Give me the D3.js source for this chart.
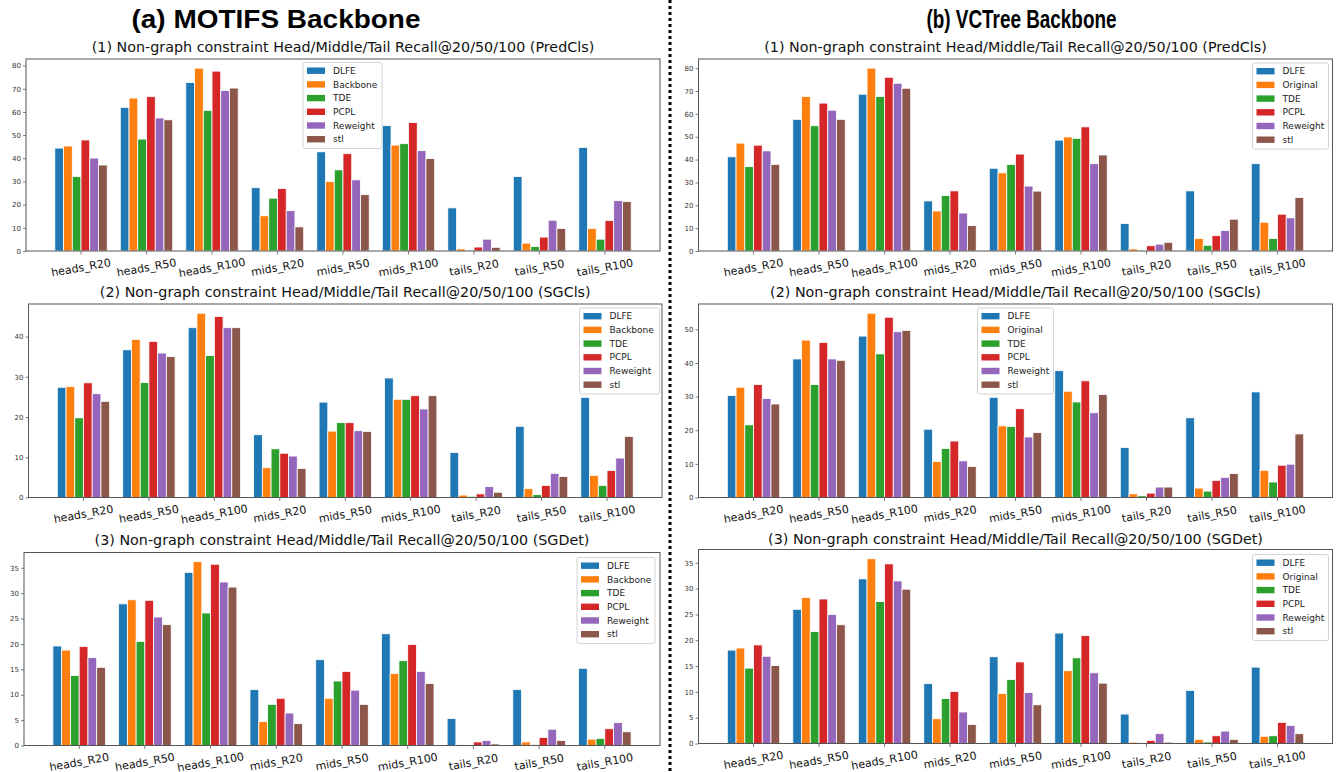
<!DOCTYPE html>
<html>
<head>
<meta charset="utf-8">
<script src="https://cdn.jsdelivr.net/npm/d3@7"></script>
<style>
  body { margin: 0; background: #fff; }
  svg { display: block; }
</style>
</head>
<body>
<svg id="chart" width="1342" height="772"></svg>
<script>
// Recall groups on the x axis
const categories = ['heads_R20', 'heads_R50', 'heads_R100', 'mids_R20', 'mids_R50', 'mids_R100', 'tails_R20', 'tails_R50', 'tails_R100'];

// Methods compared in each backbone column
const motifsMethods = ['DLFE', 'Backbone', 'TDE', 'PCPL', 'Reweight', 'stl'];
const vctreeMethods = ['DLFE', 'Original', 'TDE', 'PCPL', 'Reweight', 'stl'];
const methodColors = ['#1f77b4', '#ff7f0e', '#2ca02c', '#d62728', '#9467bd', '#8c564b'];

// MOTIFS backbone — one row per method, one value per recall group
const motifsPredCls = [
  [44.4, 62.0, 72.7, 27.3, 42.8, 54.1, 18.6, 32.1, 44.7],
  [45.3, 66.0, 78.9, 15.2, 30.0, 45.7, 0.9, 3.4, 9.7],
  [32.1, 48.3, 60.7, 22.8, 35.0, 46.3, 0.4, 1.9, 5.1],
  [47.9, 66.6, 77.6, 27.0, 42.0, 55.4, 1.7, 6.0, 13.1],
  [40.1, 57.4, 69.3, 17.4, 30.7, 43.3, 5.1, 13.3, 21.7],
  [37.1, 56.6, 70.3, 10.4, 24.3, 39.9, 1.6, 9.7, 21.3]
];
const motifsSGCls = [
  [27.4, 36.7, 42.2, 15.6, 23.7, 29.7, 11.2, 17.7, 24.9],
  [27.6, 39.3, 45.8, 7.4, 16.5, 24.4, 0.6, 2.2, 5.5],
  [19.8, 28.6, 35.3, 12.1, 18.6, 24.4, 0.3, 0.7, 3.0],
  [28.5, 38.8, 45.0, 11.0, 18.6, 25.3, 0.9, 3.0, 6.7],
  [25.8, 35.9, 42.2, 10.3, 16.6, 22.0, 2.7, 6.0, 9.8],
  [23.9, 35.0, 42.2, 7.2, 16.4, 25.3, 1.3, 5.2, 15.2]
];
const motifsSGDet = [
  [19.6, 27.9, 34.1, 11.0, 16.9, 22.0, 5.3, 11.0, 15.2],
  [18.8, 28.7, 36.2, 4.7, 9.3, 14.2, 0.2, 0.7, 1.25],
  [13.8, 20.5, 26.1, 8.1, 12.7, 16.7, 0.05, 0.2, 1.4],
  [19.5, 28.6, 35.7, 9.3, 14.6, 19.9, 0.7, 1.6, 3.3],
  [17.3, 25.3, 32.2, 6.4, 10.9, 14.6, 1.0, 3.2, 4.5],
  [15.4, 23.8, 31.2, 4.3, 8.1, 12.2, 0.3, 1.0, 2.7]
];

// VCTree backbone
const vctreePredCls = [
  [41.2, 57.6, 68.6, 21.9, 36.2, 48.5, 12.0, 26.3, 38.2],
  [47.2, 67.6, 80.0, 17.5, 34.2, 49.9, 0.9, 5.5, 12.6],
  [36.9, 54.8, 67.6, 24.3, 37.9, 49.3, 0.4, 2.5, 5.5],
  [46.3, 64.7, 76.0, 26.3, 42.4, 54.3, 2.3, 6.7, 16.1],
  [43.8, 61.6, 73.4, 16.6, 28.4, 38.2, 3.0, 9.0, 14.5],
  [37.9, 57.6, 71.2, 11.1, 26.2, 42.0, 3.8, 13.9, 23.4]
];
const vctreeSGCls = [
  [30.3, 41.2, 48.0, 20.3, 29.8, 37.7, 14.9, 23.7, 31.4],
  [32.8, 46.8, 54.8, 10.7, 21.3, 31.6, 1.1, 2.8, 8.1],
  [21.6, 33.6, 42.7, 14.6, 21.1, 28.4, 0.5, 1.9, 4.6],
  [33.6, 46.1, 53.6, 16.8, 26.4, 34.7, 1.3, 5.1, 9.6],
  [29.4, 41.2, 49.3, 10.9, 18.0, 25.2, 3.1, 6.0, 9.9],
  [27.8, 40.8, 49.7, 9.2, 19.3, 30.6, 3.1, 7.1, 18.9]
];
const vctreeSGDet = [
  [18.1, 26.0, 31.9, 11.6, 16.8, 21.4, 5.7, 10.3, 14.8],
  [18.5, 28.3, 35.8, 4.8, 9.7, 14.1, 0.26, 0.8, 1.4],
  [14.6, 21.7, 27.5, 8.7, 12.4, 16.6, 0.05, 0.3, 1.5],
  [19.1, 28.0, 34.8, 10.1, 15.8, 20.9, 0.6, 1.5, 4.1],
  [16.9, 25.0, 31.5, 6.1, 9.9, 13.7, 1.9, 2.4, 3.5],
  [15.1, 23.0, 29.9, 3.7, 7.5, 11.7, 0.26, 0.8, 1.9]
];

// Y tick values
const ticksBy10To80 = [0, 10, 20, 30, 40, 50, 60, 70, 80];
const ticksBy10To40 = [0, 10, 20, 30, 40];
const ticksBy10To50 = [0, 10, 20, 30, 40, 50];
const ticksBy5To35 = [0, 5, 10, 15, 20, 25, 30, 35];

const titlePredCls = '(1) Non-graph constraint Head/Middle/Tail Recall@20/50/100 (PredCls)';
const titleSGCls = '(2) Non-graph constraint Head/Middle/Tail Recall@20/50/100 (SGCls)';
const titleSGDet = '(3) Non-graph constraint Head/Middle/Tail Recall@20/50/100 (SGDet)';

// Panel layout: plot frame, title baseline and legend box
const panels = [
  { title: titlePredCls, methods: motifsMethods, values: motifsPredCls, ticks: ticksBy10To80,
    frame: { x0: 26, x1: 660, y0: 59, y1: 251 }, titleY: 52, legend: { x: 303, y: 62.5, w: 79 } },
  { title: titleSGCls, methods: motifsMethods, values: motifsSGCls, ticks: ticksBy10To40,
    frame: { x0: 28.5, x1: 662, y0: 304, y1: 497.5 }, titleY: 297, legend: { x: 579.5, y: 308, w: 80 } },
  { title: titleSGDet, methods: motifsMethods, values: motifsSGDet, ticks: ticksBy5To35,
    frame: { x0: 24, x1: 660, y0: 552.5, y1: 745.5 }, titleY: 545, legend: { x: 577, y: 557.5, w: 78 } },
  { title: titlePredCls, methods: vctreeMethods, values: vctreePredCls, ticks: ticksBy10To80,
    frame: { x0: 698.5, x1: 1332.5, y0: 59, y1: 251 }, titleY: 52, legend: { x: 1252.5, y: 63, w: 76 } },
  { title: titleSGCls, methods: vctreeMethods, values: vctreeSGCls, ticks: ticksBy10To50,
    frame: { x0: 698.5, x1: 1332.5, y0: 304, y1: 497.5 }, titleY: 297, legend: { x: 977.5, y: 308, w: 76 } },
  { title: titleSGDet, methods: vctreeMethods, values: vctreeSGDet, ticks: ticksBy5To35,
    frame: { x0: 698.5, x1: 1332.5, y0: 549.5, y1: 743.5 }, titleY: 544, legend: { x: 1252.5, y: 554.5, w: 76 } }
];

const svg = d3.select('#chart');
svg.append('rect').attr('width', 1342).attr('height', 772).attr('fill', '#fff');

// Column headings
const headings = [
  { text: '(a) MOTIFS Backbone', cx: 276, len: 289 },
  { text: '(b) VCTree Backbone', cx: 1021.5, len: 190 }
];
headings.forEach(h => {
  svg.append('text')
    .attr('x', h.cx).attr('y', 28)
    .attr('text-anchor', 'middle')
    .attr('font-family', '"Liberation Sans Narrow", "Liberation Sans", Arial, sans-serif')
    .attr('font-weight', 'bold')
    .attr('font-size', 26)
    .attr('fill', '#000')
    .attr('textLength', h.len)
    .attr('lengthAdjust', 'spacingAndGlyphs')
    .text(h.text);
});

// Dotted column separator
svg.append('line')
  .attr('x1', 670).attr('x2', 670).attr('y1', 0).attr('y2', 772)
  .attr('stroke', '#000').attr('stroke-width', 3)
  .attr('stroke-dasharray', '3,3');

panels.forEach(p => {
  const f = p.frame;
  const g = svg.append('g');

  const x = d3.scaleBand().domain(categories).range([f.x0, f.x1])
    .paddingInner(0.2).paddingOuter(0.44);
  const xm = d3.scaleBand().domain(p.methods).range([0, x.bandwidth()]);
  const yMax = d3.max(p.values.flat()) * 1.05;
  const y = d3.scaleLinear().domain([0, yMax]).range([f.y1, f.y0]);

  // Bars
  p.methods.forEach((m, i) => {
    g.append('g').selectAll('rect')
      .data(p.values[i].map((v, j) => ({ cat: categories[j], v })))
      .join('rect')
      .attr('x', d => x(d.cat) + xm(m))
      .attr('width', xm.bandwidth())
      .attr('y', d => y(d.v))
      .attr('height', d => y(0) - y(d.v))
      .attr('fill', methodColors[i])
      .attr('stroke', '#fff')
      .attr('stroke-width', 0.8);
  });

  // Y axis
  const ya = g.append('g').attr('transform', `translate(${f.x0},0)`)
    .call(d3.axisLeft(y).tickValues(p.ticks).tickFormat(d3.format('d')).tickSize(3).tickPadding(2).tickSizeOuter(0));
  ya.select('.domain').remove();
  ya.selectAll('line').attr('stroke', '#444').attr('stroke-width', 0.7);
  ya.selectAll('text').attr('font-family', '"DejaVu Sans", sans-serif').attr('font-size', 7).attr('fill', '#333');

  // X axis
  const xa = g.append('g').attr('transform', `translate(0,${f.y1})`)
    .call(d3.axisBottom(x).tickSize(3.5).tickSizeOuter(0));
  xa.select('.domain').remove();
  xa.selectAll('line').attr('stroke', '#444').attr('stroke-width', 0.7);
  xa.selectAll('text')
    .attr('y', 0).attr('dy', '0.35em')
    .attr('transform', 'translate(0,16.5) rotate(-10)')
    .attr('font-family', '"DejaVu Sans", sans-serif')
    .attr('font-size', 11)
    .attr('fill', '#111');

  // Frame
  g.append('rect')
    .attr('x', f.x0).attr('y', f.y0)
    .attr('width', f.x1 - f.x0).attr('height', f.y1 - f.y0)
    .attr('fill', 'none').attr('stroke', '#555').attr('stroke-width', 1);

  // Title
  g.append('text')
    .attr('x', (f.x0 + f.x1) / 2).attr('y', p.titleY)
    .attr('text-anchor', 'middle')
    .attr('font-family', '"DejaVu Sans", sans-serif')
    .attr('font-size', 14.3)
    .attr('fill', '#111')
    .text(p.title);

  // Legend
  const L = p.legend;
  const rowGap = 13.7;
  const lg = g.append('g').attr('transform', `translate(${L.x},${L.y})`);
  lg.append('rect')
    .attr('width', L.w).attr('height', 86).attr('rx', 2)
    .attr('fill', '#fff').attr('fill-opacity', 0.8)
    .attr('stroke', '#d4d4d4').attr('stroke-width', 1);
  p.methods.forEach((m, i) => {
    const cy = 8.2 + i * rowGap;
    lg.append('rect')
      .attr('x', 4).attr('y', cy - 3.2).attr('width', 18).attr('height', 6.4)
      .attr('fill', methodColors[i]);
    lg.append('text')
      .attr('x', 30).attr('y', cy).attr('dy', '0.35em')
      .attr('font-family', '"DejaVu Sans", sans-serif')
      .attr('font-size', 9)
      .attr('fill', '#222')
      .text(m);
  });
});
</script>
</body>
</html>
